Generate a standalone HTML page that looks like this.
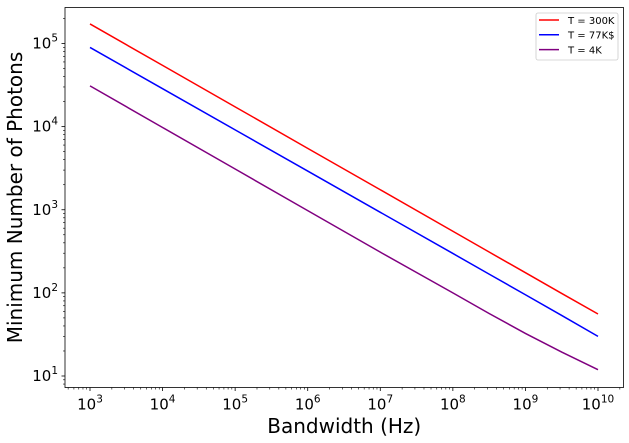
<!DOCTYPE html>
<html><head><meta charset="utf-8"><style>
html,body{margin:0;padding:0;background:#fff;}
svg{display:block;font-family:"DejaVu Sans","Liberation Sans",sans-serif;}
</style></head><body>
<svg id="chart" width="629" height="443"></svg>
<script>
const bandwidths = [1e3,1e4,1e5,1e6,1e7,1e8,3.16e8,1e9,3.16e9,1e10];
const photons300K = [172000,54500,17300,5480,1740,551,310,175,98.5,55.7];
const photons77K = [89600,28600,9140,2920,932,298,168,95,53.5,30];
const photons4K = [30900,9770,3090,977,309,100,56.5,32.5,19.4,11.9];
const xTickExps = [3,4,5,6,7,8,9,10];
const yTickExps = [1,2,3,4,5];
const seriesNames = ["T = 300K","T = 77K$","T = 4K"];

const NS="http://www.w3.org/2000/svg";
const svg=document.getElementById('chart');
const L=65,R=623.5,T=7.5,B=387.5;
const x0=90, pxDecX=(598-90)/7;
const y1=376, pxDecY=(376-43.5)/4;
function xs(v){return x0+(Math.log10(v)-3)*pxDecX;}
function ys(v){return y1-(Math.log10(v)-1)*pxDecY;}
function mk(tag,attrs){const e=document.createElementNS(NS,tag);for(const k in attrs)e.setAttribute(k,attrs[k]);svg.appendChild(e);return e;}

const xmin=Math.pow(10,3+(L-x0)/pxDecX), xmax=Math.pow(10,3+(R-x0)/pxDecX);
for(let e=2;e<=10;e++){for(let m=1;m<10;m++){const v=m*Math.pow(10,e);if(v<xmin||v>xmax)continue;const px=xs(v);
 const t=mk('line',{x1:px,x2:px,y1:B,y2:B+(m===1?3.5:2),stroke:'#000','stroke-width':m===1?0.8:0.6});
 }}
xTickExps.forEach(e=>{const t=mk('text',{x:xs(Math.pow(10,e)),y:B+22,'font-size':15,'text-anchor':'middle',fill:'#000'});
 
 t.innerHTML='10<tspan dy="-7" font-size="10.5">'+e+'</tspan>';});
const ymin=Math.pow(10,1+(y1-B)/pxDecY), ymax=Math.pow(10,1+(y1-T)/pxDecY);
for(let e=0;e<=5;e++){for(let m=1;m<10;m++){const v=m*Math.pow(10,e);if(v<ymin||v>ymax)continue;const py=ys(v);
 const t=mk('line',{x1:L-(m===1?3.5:2),x2:L,y1:py,y2:py,stroke:'#000','stroke-width':m===1?0.8:0.6});
 }}
yTickExps.forEach(e=>{const t=mk('text',{x:L-7,y:ys(Math.pow(10,e))+5,'font-size':15,'text-anchor':'end',fill:'#000'});
 
 t.innerHTML='10<tspan dy="-7" font-size="10.5">'+e+'</tspan>';});

const series=[[photons300K,'#ff0000'],[photons77K,'#0000ff'],[photons4K,'#800080']];
series.forEach((s,i)=>{const d=bandwidths.map((b,j)=>(j?'L':'M')+xs(b).toFixed(2)+','+ys(s[0][j]).toFixed(2)).join(' ');
 const p=mk('path',{d:d,fill:'none',stroke:s[1],'stroke-width':1.5});
 });

const f=mk('rect',{x:L,y:T,width:R-L,height:B-T,fill:'none',stroke:'#000','stroke-width':0.8});


const lg=mk('rect',{x:536,y:13,width:82,height:47,rx:2,fill:'#fff','fill-opacity':0.8,stroke:'#ccc','stroke-width':0.8});

seriesNames.forEach((n,i)=>{const yy=20+i*14.8;
 const l=mk('line',{x1:539,x2:559,y1:yy,y2:yy,stroke:series[i][1],'stroke-width':1.5});
 
 const t=mk('text',{x:568,y:yy+3.8,'font-size':10,fill:'#000'});t.textContent=n;
 });

const xt=mk('text',{x:(L+R)/2,y:433,'font-size':20,'text-anchor':'middle',fill:'#000'});xt.textContent='Bandwidth (Hz)';

const yt=mk('text',{x:0,y:0,'font-size':20,'text-anchor':'middle',fill:'#000',transform:'translate(22,'+((T+B)/2)+') rotate(-90)'});yt.textContent='Minimum Number of Photons';

</script>
</body></html>
